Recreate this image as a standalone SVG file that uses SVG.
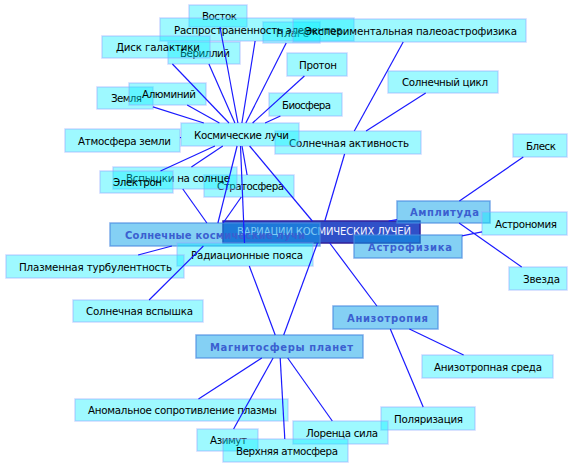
<svg xmlns="http://www.w3.org/2000/svg" width="576" height="468" viewBox="0 0 576 468">
<style>
text{font-family:"DejaVu Sans","Noto Sans",sans-serif;text-anchor:middle}
.leaf rect{fill:#00eeff;fill-opacity:.38;stroke:#90a8ff;stroke-opacity:.45;stroke-width:1.5}
.leaf text{font-size:10.3px;fill:#000}
.mid rect{fill:#0aa2ea;fill-opacity:.5;stroke:#4a8ae0;stroke-opacity:.7;stroke-width:1.5}
.mid text{font-size:10px;font-weight:bold;fill:#3b5fd0}
.core rect{fill:#3050c8;stroke:#30209a;stroke-width:1.5}
.core text{font-size:10px;fill:#f4f4ff}
#edges line{stroke:#1a1aff;stroke-width:1.2}
</style>
<rect width="576" height="468" fill="#fff"/>
<g id="nodes">
<g id="n-plage" class="leaf"><rect x="263" y="22" width="57" height="21"/><text x="292.5" y="36.5" textLength="33">Плаге</text></g>
<g id="n-vostok" class="leaf"><rect x="189" y="5" width="58" height="22"/><text x="219.5" y="20" textLength="35">Восток</text></g>
<g id="n-rasprostr" class="leaf"><rect x="160" y="18" width="194" height="23"/><text x="258" y="33.5" textLength="168">Распространенность элементов</text></g>
<g id="n-eksper" class="leaf"><rect x="293" y="19" width="233" height="23"/><text x="411" y="34.5" textLength="212">Экспериментальная палеоастрофизика</text></g>
<g id="n-berillij" class="leaf"><rect x="168" y="42" width="72" height="22"/><text x="205" y="57" textLength="50">Бериллий</text></g>
<g id="n-disk" class="leaf"><rect x="102" y="36" width="108" height="22"/><text x="158" y="51" textLength="84">Диск галактики</text></g>
<g id="n-zemlya" class="leaf"><rect x="97" y="87" width="56" height="22"/><text x="126.5" y="102" textLength="31">Земля</text></g>
<g id="n-alyuminij" class="leaf"><rect x="129" y="83" width="77" height="22"/><text x="169" y="98" textLength="54">Алюминий</text></g>
<g id="n-proton" class="leaf"><rect x="287" y="53" width="60" height="23"/><text x="318" y="68.5" textLength="38">Протон</text></g>
<g id="n-biosfera" class="leaf"><rect x="269" y="93" width="73" height="23"/><text x="306.5" y="108.5" textLength="49">Биосфера</text></g>
<g id="n-cikl" class="leaf"><rect x="388" y="71" width="110" height="22"/><text x="445" y="86" textLength="86">Солнечный цикл</text></g>
<g id="n-aktivnost" class="leaf"><rect x="275" y="131" width="146" height="23"/><text x="349" y="146.5" textLength="120">Солнечная активность</text></g>
<g id="n-kosm" class="leaf"><rect x="181" y="123" width="118" height="23"/><text x="241.5" y="138.5" textLength="95">Космические лучи</text></g>
<g id="n-atmosfera" class="leaf"><rect x="65" y="129" width="115" height="23"/><text x="124.5" y="144.5" textLength="93">Атмосфера земли</text></g>
<g id="n-stratosfera" class="leaf"><rect x="204" y="175" width="90" height="22"/><text x="250.5" y="190" textLength="67">Стратосфера</text></g>
<g id="n-vspyshki" class="leaf"><rect x="113" y="167" width="124" height="22"/><text x="178" y="182" textLength="104">Вспышки на солнце</text></g>
<g id="n-elektron" class="leaf"><rect x="100" y="171" width="73" height="22"/><text x="137.5" y="186" textLength="49">Электрон</text></g>
<g id="n-blesk" class="leaf"><rect x="513" y="134" width="54" height="23"/><text x="541" y="149.5" textLength="30">Блеск</text></g>
<g id="n-center" class="core"><rect x="223" y="221" width="197" height="22"/><text x="324" y="234.8" textLength="174">ВАРИАЦИИ КОСМИЧЕСКИХ ЛУЧЕЙ</text></g>
<g id="n-skl" class="mid"><rect x="110" y="223" width="210" height="23"/><text x="215" y="238.5" textLength="180">Солнечные космические лучи</text></g>
<g id="n-amplituda" class="mid"><rect x="397" y="201" width="93" height="22"/><text x="444.5" y="216" textLength="69">Амплитуда</text></g>
<g id="n-astronomiya" class="leaf"><rect x="482" y="212" width="85" height="23"/><text x="526" y="227.5" textLength="62">Астрономия</text></g>
<g id="n-astrofizika" class="mid"><rect x="354" y="235" width="108" height="23"/><text x="410" y="250.5" textLength="84">Астрофизика</text></g>
<g id="n-radiac" class="leaf"><rect x="177" y="243" width="136" height="23"/><text x="247" y="258.5" textLength="112">Радиационные пояса</text></g>
<g id="n-plazm" class="leaf"><rect x="6" y="255" width="178" height="23"/><text x="95.5" y="270.5" textLength="153">Плазменная турбулентность</text></g>
<g id="n-zvezda" class="leaf"><rect x="509" y="267" width="58" height="23"/><text x="541.5" y="282.5" textLength="37">Звезда</text></g>
<g id="n-vspyshka" class="leaf"><rect x="73" y="300" width="130" height="22"/><text x="139.5" y="315" textLength="107">Солнечная вспышка</text></g>
<g id="n-anizotropiya" class="mid"><rect x="333" y="306" width="105" height="23"/><text x="387.5" y="321.5" textLength="81">Анизотропия</text></g>
<g id="n-magnitosfery" class="mid"><rect x="196" y="335" width="167" height="23"/><text x="281.5" y="350.5" textLength="143">Магнитосферы планет</text></g>
<g id="n-anizsreda" class="leaf"><rect x="422" y="355" width="131" height="23"/><text x="488" y="370.5" textLength="108">Анизотропная среда</text></g>
<g id="n-anomal" class="leaf"><rect x="75" y="399" width="213" height="22"/><text x="182.5" y="414" textLength="189">Аномальное сопротивление плазмы</text></g>
<g id="n-polyariz" class="leaf"><rect x="381" y="407" width="94" height="23"/><text x="428.5" y="422.5" textLength="69">Поляризация</text></g>
<g id="n-lorenc" class="leaf"><rect x="293" y="421" width="95" height="23"/><text x="342" y="436.5" textLength="72">Лоренца сила</text></g>
<g id="n-azimut" class="leaf"><rect x="197" y="429" width="61" height="22"/><text x="228.5" y="444" textLength="37">Азимут</text></g>
<g id="n-verhnyaya" class="leaf"><rect x="223" y="439" width="125" height="23"/><text x="287" y="454.5" textLength="102">Верхняя атмосфера</text></g>
</g>
<g id="edges">
<line x1="220" y1="27" x2="237.9" y2="123"/>
<line x1="255.1" y1="41" x2="241.9" y2="123"/>
<line x1="286.2" y1="43" x2="245.8" y2="123"/>
<line x1="304.4" y1="76" x2="252.6" y2="123"/>
<line x1="280.4" y1="116" x2="265.1" y2="123"/>
<line x1="208.9" y1="64" x2="234.9" y2="123"/>
<line x1="172.4" y1="64" x2="229" y2="123"/>
<line x1="187.2" y1="105" x2="219.4" y2="123"/>
<line x1="153" y1="106.9" x2="203.8" y2="123"/>
<line x1="180" y1="137.6" x2="181" y2="137.5"/>
<line x1="222.8" y1="146" x2="191.4" y2="167"/>
<line x1="214.9" y1="146" x2="160.5" y2="171"/>
<line x1="240.5" y1="146" x2="244.5" y2="243"/>
<line x1="242" y1="146" x2="247.1" y2="175"/>
<line x1="237.1" y1="146" x2="217.9" y2="223"/>
<line x1="249.6" y1="146" x2="312.3" y2="221"/>
<line x1="403.2" y1="42" x2="354.3" y2="131"/>
<line x1="425.7" y1="93" x2="366.1" y2="131"/>
<line x1="344.6" y1="154" x2="324.8" y2="221"/>
<line x1="388.6" y1="221" x2="397" y2="219.6"/>
<line x1="329.7" y1="243" x2="376.9" y2="306"/>
<line x1="317.5" y1="243" x2="283.7" y2="335"/>
<line x1="459.4" y1="201" x2="523.3" y2="157"/>
<line x1="459.1" y1="223" x2="521.7" y2="267"/>
<line x1="462" y1="235.8" x2="482" y2="231.9"/>
<line x1="171.9" y1="246" x2="138.1" y2="255"/>
<line x1="203.4" y1="246" x2="149.1" y2="300"/>
<line x1="182.8" y1="189" x2="206.9" y2="223"/>
<line x1="241.3" y1="197" x2="223.1" y2="223"/>
<line x1="249.3" y1="266" x2="275.2" y2="335"/>
<line x1="261.8" y1="358" x2="198.5" y2="399"/>
<line x1="273.1" y1="358" x2="233.6" y2="429"/>
<line x1="280.2" y1="358" x2="284.8" y2="439"/>
<line x1="287.7" y1="358" x2="332.3" y2="421"/>
<line x1="409.4" y1="329" x2="463.6" y2="355"/>
<line x1="390.3" y1="329" x2="423.2" y2="407"/>
</g>
</svg>
